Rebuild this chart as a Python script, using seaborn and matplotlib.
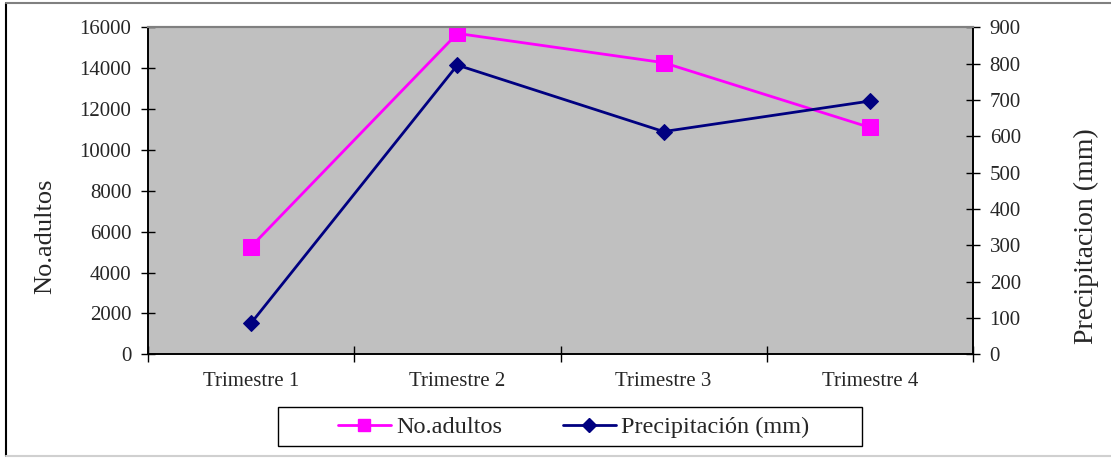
import matplotlib
matplotlib.use("Agg")
import matplotlib.pyplot as plt
from matplotlib.ticker import FixedLocator, NullFormatter
from matplotlib.lines import Line2D
from matplotlib.patches import Rectangle
import seaborn as sns
import pandas as pd

# Quarterly data
trimestres = ["Trimestre 1", "Trimestre 2", "Trimestre 3", "Trimestre 4"]
adultos = [5270, 15700, 14270, 11100]
precipitacion = [86, 796, 613, 697]

adultos_ticks = [0, 2000, 4000, 6000, 8000, 10000, 12000, 14000, 16000]
precip_ticks = [0, 100, 200, 300, 400, 500, 600, 700, 800, 900]

sns.set_style("white")
plt.rcParams["font.family"] = ["Liberation Serif", "DejaVu Serif"]

df = pd.DataFrame({"trimestre": trimestres, "adultos": adultos,
                   "precipitacion": precipitacion})

fig = plt.figure(figsize=(11.11, 4.58), dpi=100)
W, H = 1111, 458
ax = fig.add_axes([148 / W, 1 - 354.3 / H, (973 - 148) / W, (354.3 - 27.3) / H])
ax.set_facecolor("#C0C0C0")

magenta = "#FF00FF"
navy = "#000080"

sns.lineplot(data=df, x="trimestre", y="adultos", ax=ax, color=magenta,
             linewidth=2, marker="s", markersize=11, markeredgecolor=magenta,
             sort=False)
ax2 = ax.twinx()
sns.lineplot(data=df, x="trimestre", y="precipitacion", ax=ax2, color=navy,
             linewidth=2, marker="D", markersize=8.5, markeredgecolor=navy,
             sort=False)

ax.set_xlim(-0.5, 3.5)
ax.set_ylim(0, 16000)
ax2.set_ylim(0, 900)
ax.set_yticks(adultos_ticks)
ax2.set_yticks(precip_ticks)

# Category labels centred, tick marks on the category boundaries
ax.set_xticks(range(len(trimestres)))
ax.set_xticklabels(trimestres)
ax.xaxis.set_minor_locator(FixedLocator([-0.5, 0.5, 1.5, 2.5, 3.5]))
ax.xaxis.set_minor_formatter(NullFormatter())
ax.tick_params(axis="x", which="major", length=0, pad=13, labelsize=15)
ax.tick_params(axis="x", which="minor", direction="inout", length=12,
               width=1, color="black", bottom=True)
ax.tick_params(axis="y", direction="inout", length=10, width=1,
               color="black", left=True, labelsize=15, pad=7)
ax2.tick_params(axis="y", direction="inout", length=10, width=1,
                color="black", right=True, labelsize=15, pad=7)

ax.set_xlabel("")
ax.set_ylabel("No.adultos", fontsize=19)
ax.yaxis.set_label_coords((45 - 148) / 825, (354.3 - 236) / 327)
ax.yaxis.label.set_verticalalignment("center")
ax2.set_ylabel("Precipitacion (mm)", fontsize=20)
ax2.yaxis.set_label_coords((1086 - 148) / 825, (354.3 - 236) / 327)
ax2.yaxis.label.set_verticalalignment("center")

for a in (ax, ax2):
    for side in ("left", "bottom", "right"):
        a.spines[side].set_color("black")
        a.spines[side].set_linewidth(1.2)
    a.spines["top"].set_color("#808080")
    a.spines["top"].set_linewidth(1.5)
ax2.patch.set_visible(False)

# Legend: entries without frame, box drawn separately (wide side margins)
handles = [
    Line2D([], [], color=magenta, linewidth=2, marker="s", markersize=9,
           markeredgecolor=magenta),
    Line2D([], [], color=navy, linewidth=2, marker="D", markersize=7.5,
           markeredgecolor=navy),
]
fig.legend(handles, ["No.adultos", "Precipitación (mm)"],
           loc="center", bbox_to_anchor=(573.5 / W, 1 - 427 / H),
           ncol=2, fontsize=17.5, frameon=False,
           handlelength=2.2, columnspacing=2.5, handletextpad=0.2,
           borderpad=0, borderaxespad=0)
fig.add_artist(Rectangle((278 / W, 1 - 446 / H), (862 - 278) / W,
                         (446 - 407) / H, transform=fig.transFigure,
                         facecolor="none", edgecolor="black", linewidth=1))

# Outer chart border
fig.add_artist(Line2D([6 / W, 6 / W], [1 - 3 / H, 1 - 456 / H],
                      transform=fig.transFigure, color="black", linewidth=1.5))
fig.add_artist(Line2D([6 / W, 1111 / W], [1 - 3 / H, 1 - 3 / H],
                      transform=fig.transFigure, color="#808080", linewidth=1.5))
fig.add_artist(Line2D([6 / W, 1111 / W], [1 - 456 / H, 1 - 456 / H],
                      transform=fig.transFigure, color="#D0D0D0", linewidth=1.5))

fig.savefig("out.png", dpi=100)
